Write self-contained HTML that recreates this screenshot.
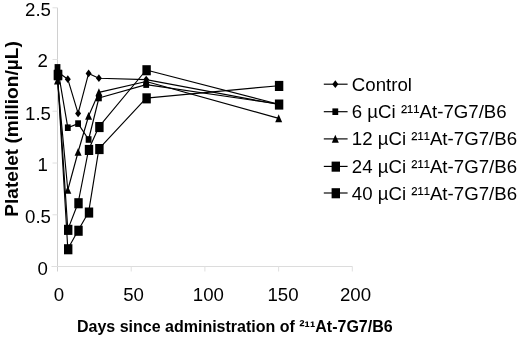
<!DOCTYPE html>
<html><head><meta charset="utf-8"><title>Platelet chart</title>
<style>
html,body{margin:0;padding:0;background:#fff;}
svg{display:block;filter:blur(0.35px);font-family:"Liberation Sans",sans-serif;font-size:18.67px;fill:#000;}
.b{font-weight:bold;font-size:16px;}
</style></head><body>
<svg width="520" height="339" viewBox="0 0 520 339">
<rect width="520" height="339" fill="#fff"/>
<path d="M57.5 7.8V271.5" stroke="#d0d0d0" stroke-width="1" fill="none"/>
<path d="M51.5 266.5H352.5" stroke="#dcdcdc" stroke-width="1" fill="none"/>
<path d="M52.5 266.5H57.5M52.5 214.8H57.5M52.5 163.0H57.5M52.5 111.2H57.5M52.5 59.5H57.5M52.5 7.8H57.5M131.2 266.5V271.5M204.9 266.5V271.5M278.6 266.5V271.5M352.3 266.5V271.5" stroke="#e0e0e0" stroke-width="1" fill="none"/>
<polyline points="57.5,71.7 67.8,79.2 78.1,113.4 88.6,73.4 98.9,78.2 146.2,79.6 278.7,104.5" fill="none" stroke="#000" stroke-width="1.15" stroke-linejoin="round"/>
<polyline points="57.5,67.4 67.8,127.7 78.1,123.6 88.6,139.5 98.9,98.0 146.2,84.6 278.7,104.0" fill="none" stroke="#000" stroke-width="1.15" stroke-linejoin="round"/>
<polyline points="57.5,80.7 67.8,190.0 78.1,152.0 88.6,116.0 98.9,92.4 146.2,81.5 278.7,118.4" fill="none" stroke="#000" stroke-width="1.15" stroke-linejoin="round"/>
<polyline points="57.5,74.5 67.8,229.6 78.1,203.0 88.6,149.7 98.9,126.8 146.2,70.0 278.7,104.3" fill="none" stroke="#000" stroke-width="1.15" stroke-linejoin="round"/>
<polyline points="57.5,75.0 67.8,249.0 78.1,230.5 88.6,212.3 98.9,148.8 146.2,98.1 278.7,85.7" fill="none" stroke="#000" stroke-width="1.15" stroke-linejoin="round"/>
<path d="M57.5 67.8L60.5 71.7L57.5 75.6L54.5 71.7Z"/>
<path d="M67.8 75.3L70.8 79.2L67.8 83.1L64.8 79.2Z"/>
<path d="M78.1 109.5L81.1 113.4L78.1 117.3L75.1 113.4Z"/>
<path d="M88.6 69.5L91.6 73.4L88.6 77.3L85.6 73.4Z"/>
<path d="M98.9 74.3L101.9 78.2L98.9 82.1L95.9 78.2Z"/>
<path d="M146.2 75.7L149.2 79.6L146.2 83.5L143.2 79.6Z"/>
<path d="M278.7 100.6L281.7 104.5L278.7 108.4L275.7 104.5Z"/>
<rect x="54.6" y="64.1" width="5.8" height="6.6"/>
<rect x="64.9" y="124.4" width="5.8" height="6.6"/>
<rect x="75.2" y="120.3" width="5.8" height="6.6"/>
<rect x="85.7" y="136.2" width="5.8" height="6.6"/>
<rect x="96.0" y="94.7" width="5.8" height="6.6"/>
<rect x="143.3" y="81.3" width="5.8" height="6.6"/>
<rect x="275.8" y="100.7" width="5.8" height="6.6"/>
<path d="M57.5 76.6L61.0 84.5L54.0 84.5Z"/>
<path d="M67.8 185.9L71.3 193.8L64.3 193.8Z"/>
<path d="M78.1 147.9L81.6 155.8L74.6 155.8Z"/>
<path d="M88.6 111.9L92.1 119.8L85.1 119.8Z"/>
<path d="M98.9 88.3L102.4 96.2L95.4 96.2Z"/>
<path d="M146.2 77.4L149.7 85.3L142.7 85.3Z"/>
<path d="M278.7 114.3L282.2 122.2L275.2 122.2Z"/>
<rect x="53.8" y="69.7" width="8.4" height="10.1"/>
<rect x="64.0" y="224.8" width="8.4" height="10.1"/>
<rect x="74.3" y="198.2" width="8.4" height="10.1"/>
<rect x="84.8" y="144.9" width="8.4" height="10.1"/>
<rect x="95.2" y="122.0" width="8.4" height="10.1"/>
<rect x="142.4" y="65.2" width="8.4" height="10.1"/>
<rect x="274.9" y="99.5" width="8.4" height="10.1"/>
<rect x="53.8" y="70.2" width="8.4" height="10.1"/>
<rect x="64.0" y="244.2" width="8.4" height="10.1"/>
<rect x="74.3" y="225.7" width="8.4" height="10.1"/>
<rect x="84.8" y="207.5" width="8.4" height="10.1"/>
<rect x="95.2" y="144.0" width="8.4" height="10.1"/>
<rect x="142.4" y="93.3" width="8.4" height="10.1"/>
<rect x="274.9" y="80.9" width="8.4" height="10.1"/>
<text transform="translate(48,275.0) scale(1,1.025)" text-anchor="end">0</text>
<text transform="translate(51,223.2) scale(1,1.025)" text-anchor="end">0.5</text>
<text transform="translate(48,170.7) scale(1,1.025)" text-anchor="end">1</text>
<text transform="translate(51,119.7) scale(1,1.025)" text-anchor="end">1.5</text>
<text transform="translate(48,67.0) scale(1,1.025)" text-anchor="end">2</text>
<text transform="translate(51,15.9) scale(1,1.025)" text-anchor="end">2.5</text>
<text transform="translate(59,301.2) scale(1,1.025)" text-anchor="middle">0</text>
<text transform="translate(133.5,301.2) scale(1,1.025)" text-anchor="middle">50</text>
<text transform="translate(208.4,301.2) scale(1,1.025)" text-anchor="middle">100</text>
<text transform="translate(283,301.2) scale(1,1.025)" text-anchor="middle">150</text>
<text transform="translate(355.5,301.2) scale(1,1.025)" text-anchor="middle">200</text>
<path d="M323.8 84.2H347.6" stroke="#000" stroke-width="1.15"/>
<path d="M335.3 80.3L338.3 84.2L335.3 88.1L332.3 84.2Z"/>
<text transform="translate(351.8,90.7) scale(1,1.025)">Control</text>
<path d="M323.8 111.7H347.6" stroke="#000" stroke-width="1.15"/>
<rect x="332.4" y="108.4" width="5.8" height="6.6"/>
<text transform="translate(351.8,118.2) scale(1,1.025)">6 µCi ²¹¹At-7G7/B6</text>
<path d="M323.8 138.9H347.6" stroke="#000" stroke-width="1.15"/>
<path d="M335.3 134.8L338.8 142.7L331.8 142.7Z"/>
<text transform="translate(351.8,145.4) scale(1,1.025)">12 µCi ²¹¹At-7G7/B6</text>
<path d="M323.8 166.4H347.6" stroke="#000" stroke-width="1.15"/>
<rect x="331.6" y="161.6" width="8.4" height="10.1"/>
<text transform="translate(351.8,172.9) scale(1,1.025)">24 µCi ²¹¹At-7G7/B6</text>
<path d="M323.8 193.0H347.6" stroke="#000" stroke-width="1.15"/>
<rect x="331.6" y="188.2" width="8.4" height="10.1"/>
<text transform="translate(351.8,199.5) scale(1,1.025)">40 µCi ²¹¹At-7G7/B6</text>
<text class="b" x="77" y="332.3">Days since administration of ²¹¹At-7G7/B6</text>
<text class="b" style="font-size:18.67px" transform="translate(18.3,129) rotate(-90) scale(1.024,0.98)" text-anchor="middle">Platelet (million/µL)</text>
</svg>
</body></html>
